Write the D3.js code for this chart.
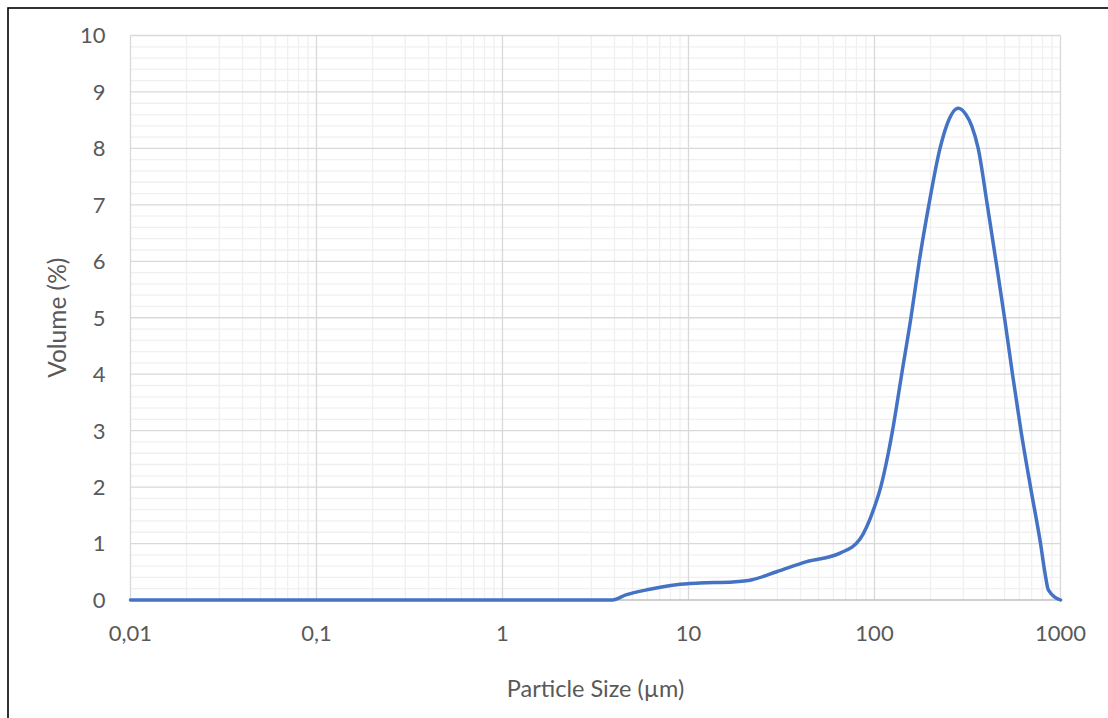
<!DOCTYPE html>
<html>
<head>
<meta charset="utf-8">
<script src="https://cdn.jsdelivr.net/npm/d3@7"></script>
<style>
  body { margin: 0; background: #fff; }
  text { font-family: Lato, "Open Sans", sans-serif; fill: #595959; }
</style>
</head>
<body>
<div id="chart"></div>
<script>
// particle size distribution
var sizes = [0.01, 0.1, 1, 3.9, 4.6, 6.2, 8.6, 11.5, 17.3, 22, 29.8, 43.2, 65.3, 83.6,
             100, 108, 118.6, 125, 140, 157, 174, 196, 225, 244, 282, 310, 333, 361, 404,
             450, 500, 552, 613, 690, 781, 826, 860, 1000];
var volumes = [0, 0, 0, 0, 0.09, 0.19, 0.27, 0.30, 0.32, 0.36, 0.50, 0.68, 0.83, 1.08,
               1.65, 2.0, 2.6, 3.0, 4.0, 5.0, 6.0, 7.0, 8.0, 8.4, 8.71, 8.6, 8.4, 8.0, 7.0,
               6.0, 5.0, 4.0, 3.0, 2.0, 1.0, 0.47, 0.18, 0];
var xTicks = [0.01, 0.1, 1, 10, 100, 1000],
    xTickLabels = ["0,01", "0,1", "1", "10", "100", "1000"],
    yTicks = d3.range(0, 11);

var W = 1108, H = 718;
var margin = {top: 35.5, right: 47.5, bottom: 118, left: 130.5},
    width = W - margin.left - margin.right,
    height = H - margin.top - margin.bottom;

var svg = d3.select("#chart").append("svg")
    .attr("width", W)
    .attr("height", H);

// outer frame (only top/left visible in the picture)
svg.append("rect")
    .attr("x", 8).attr("y", 8)
    .attr("width", 1300).attr("height", 900)
    .attr("fill", "none")
    .attr("stroke", "#000")
    .attr("stroke-width", 1.6);

var g = svg.append("g")
    .attr("transform", "translate(" + margin.left + "," + margin.top + ")");

var x = d3.scaleLog().domain([0.01, 1000]).range([0, width]);
var y = d3.scaleLinear().domain([0, 10]).range([height, 0]);

// minor grid
var minorX = [];
[0.01, 0.1, 1, 10, 100].forEach(function(dec) {
  for (var k = 2; k <= 9; k++) minorX.push(dec * k);
});
var minorY = d3.range(0, 50).filter(function(i) { return i % 5 != 0; }).map(function(i) { return i / 5; });

g.append("g").selectAll("line").data(minorX).enter().append("line")
    .attr("x1", function(d) { return x(d); }).attr("x2", function(d) { return x(d); })
    .attr("y1", 0).attr("y2", height)
    .attr("stroke", "#f0f0f0").attr("stroke-width", 1.3);

g.append("g").selectAll("line").data(minorY).enter().append("line")
    .attr("x1", 0).attr("x2", width)
    .attr("y1", function(d) { return y(d); }).attr("y2", function(d) { return y(d); })
    .attr("stroke", "#f0f0f0").attr("stroke-width", 1.3);

// major grid
g.append("g").selectAll("line").data(xTicks).enter().append("line")
    .attr("x1", function(d) { return x(d); }).attr("x2", function(d) { return x(d); })
    .attr("y1", 0).attr("y2", height)
    .attr("stroke", "#d9d9d9").attr("stroke-width", 1.3);

g.append("g").selectAll("line").data(yTicks.slice(1)).enter().append("line")
    .attr("x1", 0).attr("x2", width)
    .attr("y1", function(d) { return y(d); }).attr("y2", function(d) { return y(d); })
    .attr("stroke", "#d9d9d9").attr("stroke-width", 1.3);

// x axis line
g.append("line")
    .attr("x1", 0).attr("x2", width)
    .attr("y1", y(0)).attr("y2", y(0))
    .attr("stroke", "#bfbfbf").attr("stroke-width", 1.3);

// tick labels
g.append("g").selectAll("text").data(yTicks).enter().append("text")
    .attr("x", -25)
    .attr("y", function(d) { return y(d); })
    .attr("dy", "0.36em")
    .attr("text-anchor", "end")
    .style("font-size", "22px")
    .text(function(d) { return d; });

g.append("g").selectAll("text").data(xTicks).enter().append("text")
    .attr("x", function(d) { return x(d); })
    .attr("y", height + 41)
    .attr("text-anchor", "middle")
    .style("font-size", "22px")
    .text(function(d, i) { return xTickLabels[i]; });

// axis titles
svg.append("text")
    .attr("x", margin.left + width / 2)
    .attr("y", 697)
    .attr("text-anchor", "middle")
    .style("font-size", "23.5px")
    .text("Particle Size (µm)");

svg.append("text")
    .attr("transform", "translate(66," + (margin.top + height / 2) + ") rotate(-90)")
    .attr("text-anchor", "middle")
    .style("font-size", "24.5px")
    .text("Volume (%)");

// the curve
var pts = sizes.map(function(s, i) { return [s, volumes[i]]; });

var line = d3.line()
    .x(function(d) { return x(d[0]); })
    .y(function(d) { return y(d[1]); })
    .curve(d3.curveMonotoneX);

g.append("path")
    .datum(pts)
    .attr("fill", "none")
    .attr("stroke", "#4472C4")
    .attr("stroke-width", 3.5)
    .attr("stroke-linejoin", "round")
    .attr("stroke-linecap", "round")
    .attr("d", line);
</script>
</body>
</html>
